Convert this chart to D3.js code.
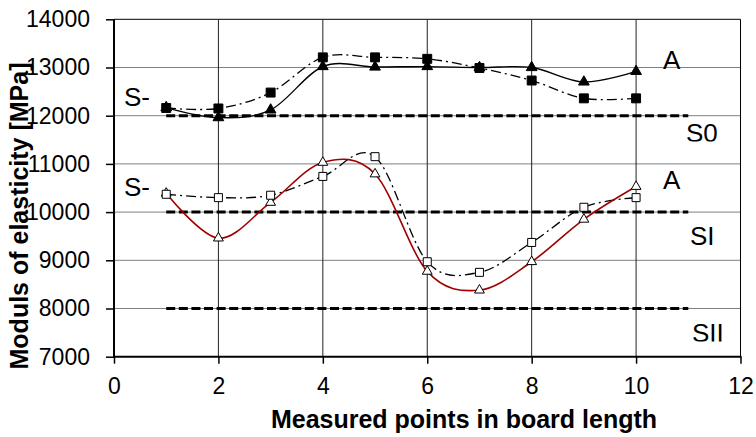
<!DOCTYPE html>
<head>
  <meta charset="utf-8">
  <script src="https://cdn.jsdelivr.net/npm/d3@7"></script>
  <style>
    body { margin:0; background:#fff; }
    text { font-family: "Liberation Sans", Arial, sans-serif; fill:#000; }
  </style>
</head>
<body>
  <script>
    // measured points along the board
    var points = [1, 2, 3, 4, 5, 6, 7, 8, 9, 10];

    // upper pair (filled markers)
    var filledSquares   = [12160, 12150, 12480, 13210, 13210, 13180, 12990, 12730, 12360, 12360];
    var filledTriangles = [12170, 11960, 12120, 13020, 13010, 13020, 13000, 13000, 12700, 12920];

    // lower pair (open markers)
    var openSquares   = [10370, 10300, 10350, 10740, 11150, 8970, 8750, 9370, 10100, 10300];
    var openTriangles = [10390, 9460, 10200, 11030, 10790, 8770, 8380, 8970, 9850, 10530];

    // grade limits
    var limits = [12000, 10000, 8000];
    var limitRange = [1, 11];

    var xTicks = [0, 2, 4, 6, 8, 10, 12];
    var yTicks = [7000, 8000, 9000, 10000, 11000, 12000, 13000, 14000];

    var width = 756, height = 437;
    var pL = 114, pR = 740.5, pT = 19.3, pB = 356.7;

    var svg = d3.select("body").append("svg")
      .attr("width", width)
      .attr("height", height);

    var x = d3.scaleLinear().domain([0, 12]).range([pL, pR]);
    var y = d3.scaleLinear().domain([7000, 14000]).range([pB, pT]);

    // grid
    svg.append("g").selectAll("line")
      .data(yTicks.slice(1))
      .enter().append("line")
      .attr("x1", pL).attr("x2", pR)
      .attr("y1", function(d) { return y(d); })
      .attr("y2", function(d) { return y(d); })
      .style("stroke", d => d == 14000 ? "#000" : "#808080")
      .style("stroke-width", 1);

    svg.append("g").selectAll("line")
      .data(xTicks.slice(1))
      .enter().append("line")
      .attr("y1", pT).attr("y2", pB)
      .attr("x1", function(d) { return x(d); })
      .attr("x2", function(d) { return x(d); })
      .style("stroke", d => d == 12 ? "#000" : "#222")
      .style("stroke-width", 1);

    // axes
    var yAxis = d3.axisLeft(y).tickValues(yTicks).tickSize(8).tickPadding(16).tickFormat(d3.format("d"));
    var xAxis = d3.axisBottom(x).tickValues(xTicks).tickSize(7).tickPadding(14);

    var gy = svg.append("g").attr("transform", "translate(" + pL + ",0)").call(yAxis);
    var gx = svg.append("g").attr("transform", "translate(0," + pB + ")").call(xAxis);

    [gx, gy].forEach(function(g) {
      g.select(".domain").remove();
      g.selectAll(".tick line").style("stroke", "#000").style("stroke-width", 1.5);
      g.selectAll("text").style("font-size", "23px").style("fill", "#000")
        .style("font-family", "'Liberation Sans', Arial, sans-serif");
    });
    gx.selectAll("text").attr("dy", "0.71em");

    svg.append("line").attr("x1", pL).attr("x2", pL).attr("y1", pT).attr("y2", pB + 1)
      .style("stroke", "#000").style("stroke-width", 2);
    svg.append("line").attr("x1", pL - 1).attr("x2", pR + 1).attr("y1", pB).attr("y2", pB)
      .style("stroke", "#000").style("stroke-width", 2);

    // limit lines
    svg.append("g").selectAll("line")
      .data(limits)
      .enter().append("line")
      .attr("x1", x(limitRange[0])).attr("x2", x(limitRange[1]))
      .attr("y1", function(d) { return y(d); })
      .attr("y2", function(d) { return y(d); })
      .style("stroke", "#000")
      .style("stroke-width", 3)
      .style("stroke-dasharray", "9,3.6");

    // series lines
    var curve = d3.curveCatmullRom.alpha(0);
    function lineOf(vals) {
      return d3.line()
        .x(function(d, i) { return x(points[i]); })
        .y(function(d) { return y(d); })
        .curve(curve)(vals);
    }

    svg.append("path").attr("d", lineOf(filledSquares))
      .style("fill", "none").style("stroke", "#000").style("stroke-width", 1.3)
      .style("stroke-dasharray", "10,4,2,4");
    svg.append("path").attr("d", lineOf(filledTriangles))
      .style("fill", "none").style("stroke", "#000").style("stroke-width", 1.3);
    svg.append("path").attr("d", lineOf(openSquares))
      .style("fill", "none").style("stroke", "#000").style("stroke-width", 1.3)
      .style("stroke-dasharray", "10,4,2,4");
    svg.append("path").attr("d", lineOf(openTriangles))
      .style("fill", "none").style("stroke", "#a00000").style("stroke-width", 1.6);

    // markers
    function markers(vals, shape, size, fill) {
      svg.append("g").selectAll("path")
        .data(vals)
        .enter().append("path")
        .attr("transform", function(d, i) { return "translate(" + x(points[i]) + "," + y(d) + ")"; })
        .attr("d", d3.symbol().type(shape).size(size)())
        .style("fill", fill)
        .style("stroke", "#000")
        .style("stroke-width", 1);
    }
    markers(openTriangles, d3.symbolTriangle, 42, "#fff");
    markers(openSquares, d3.symbolSquare, 64, "#fff");
    markers(filledTriangles, d3.symbolTriangle, 50, "#000");
    markers(filledSquares, d3.symbolSquare, 80, "#000");

    // grade labels
    var defs = svg.append("defs");
    function label(txt, lx, ly, clipY) {
      var t = svg.append("text").attr("x", lx).attr("y", ly).text(txt)
        .style("font-size", "26px");
      if (clipY) {
        var id = "clip" + txt;
        defs.append("clipPath").attr("id", id).append("rect")
          .attr("x", lx - 5).attr("y", ly - 40).attr("width", 80).attr("height", clipY - ly + 40);
        t.attr("clip-path", "url(#" + id + ")");
      }
    }
    label("S-", 124, 106);
    label("S-", 124, 196);
    label("A", 663, 69);
    label("A", 663, 189);
    label("S0", 686, 141.5, 141.5);
    label("SI", 690, 245);
    label("SII", 692, 341.5, 341.5);

    // axis titles
    svg.append("text")
      .attr("x", 464).attr("y", 428)
      .attr("text-anchor", "middle")
      .style("font-size", "25px").style("font-weight", "bold")
      .text("Measured points in board length");

    svg.append("text")
      .attr("transform", "translate(28,216) rotate(-90)")
      .attr("text-anchor", "middle")
      .style("font-size", "25px").style("font-weight", "bold")
      .text("Moduls of elasticity [MPa]");
  </script>
</body>
